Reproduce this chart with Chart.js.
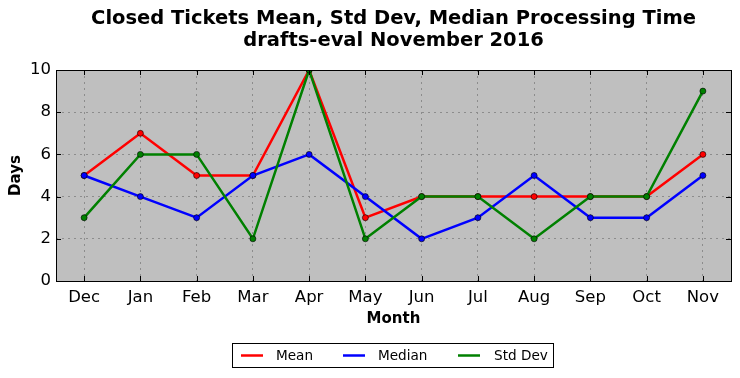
<!DOCTYPE html>
<html><head><meta charset="utf-8">
<script src="https://cdn.jsdelivr.net/npm/chart.js@4/dist/chart.umd.min.js"></script>
<style>html,body{margin:0;padding:0;background:#fff}#wrap{width:740px;height:378px}</style>
</head><body><div id="wrap"><canvas id="c" width="740" height="378"></canvas></div>
<script>
const months = ["Dec","Jan","Feb","Mar","Apr","May","Jun","Jul","Aug","Sep","Oct","Nov"];
const meanDays = [5,7,5,5,10,3,4,4,4,4,4,6];
const medianDays = [5,4,3,5,6,4,2,3,5,3,3,5];
const stdDevDays = [3,6,6,2,10,2,4,4,2,4,4,9];
const yTicks = [0,2,4,6,8,10];
const titleLines = ["Closed Tickets Mean, Std Dev, Median Processing Time","drafts-eval November 2016"];

const FONT = "'DejaVu Sans', sans-serif";

const framePlugin = {
  id: 'frame',
  beforeDraw(chart) {
    const {ctx, chartArea: a} = chart;
    ctx.save();
    ctx.fillStyle = '#bfbfbf';
    ctx.fillRect(a.left, a.top, a.right - a.left, a.bottom - a.top);
    ctx.restore();
  },
  afterDatasetsDraw(chart) {
    const {ctx, chartArea: a, scales} = chart;
    ctx.save();
    ctx.strokeStyle = '#000';
    ctx.lineWidth = 1;
    const L = 5;
    ctx.beginPath();
    months.forEach((m, i) => {
      const x = Math.round(scales.x.getPixelForValue(i)) + 0.5;
      ctx.moveTo(x, a.top); ctx.lineTo(x, a.top + L);
      ctx.moveTo(x, a.bottom); ctx.lineTo(x, a.bottom - L);
    });
    yTicks.forEach(v => {
      const y = Math.round(scales.y.getPixelForValue(v)) + 0.5;
      ctx.moveTo(a.left, y); ctx.lineTo(a.left + L, y);
      ctx.moveTo(a.right, y); ctx.lineTo(a.right - L, y);
    });
    ctx.stroke();
    ctx.strokeRect(Math.round(a.left) + 0.5, Math.round(a.top) + 0.5, Math.round(a.right - a.left), Math.round(a.bottom - a.top));
    ctx.restore();
  },
  afterDraw(chart) {
    const ctx = chart.ctx;
    const a = chart.chartArea;
    ctx.save();
    // title centred over the plot area
    ctx.fillStyle = '#000';
    ctx.font = "bold 19.5px " + FONT;
    ctx.textAlign = 'center';
    ctx.textBaseline = 'middle';
    const cx = (a.left + a.right) / 2;
    ctx.fillText(titleLines[0], cx, 19);
    ctx.fillText(titleLines[1], cx, 41);
    // legend
    ctx.textAlign = 'left';
    ctx.fillStyle = '#fff';
    ctx.fillRect(232.5, 343.5, 321, 24);
    ctx.strokeStyle = '#000';
    ctx.lineWidth = 1;
    ctx.strokeRect(232.5, 343.5, 321, 24);
    const items = [[0, 241, 276], [1, 343, 378], [2, 458, 494]];
    ctx.font = "13.6px " + FONT;
    items.forEach(([di, lx, tx]) => {
      const ds = chart.data.datasets[di];
      ctx.strokeStyle = ds.borderColor;
      ctx.lineWidth = 2.5;
      ctx.beginPath(); ctx.moveTo(lx, 355.5); ctx.lineTo(lx + 22, 355.5); ctx.stroke();
      ctx.fillStyle = '#000';
      ctx.fillText(ds.label, tx, 356);
    });
    ctx.restore();
  }
};

const mk = (label, data, color, order) => ({
  label, data, borderColor: color, backgroundColor: color, borderWidth: 2.5,
  pointRadius: 3, pointBackgroundColor: color, pointBorderColor: '#000', pointBorderWidth: 0.6,
  tension: 0, order
});

const gridColor = '#8c8c8c';

new Chart(document.getElementById('c'), {
  type: 'line',
  data: {
    labels: months,
    datasets: [
      mk('Mean', meanDays, '#ff0000', 2),
      mk('Median', medianDays, '#0000ff', 1),
      mk('Std Dev', stdDevDays, '#008000', 0)
    ]
  },
  options: {
    responsive: false, animation: false, devicePixelRatio: 1,
    layout: { padding: { left: 0, right: 9, top: 70, bottom: 0 } },
    plugins: {
      legend: { display: false },
      tooltip: { enabled: false },
      title: { display: false }
    },
    scales: {
      x: {
        type: 'category', offset: true,
        grid: { color: gridColor, lineWidth: 1, drawTicks: false, offset: false },
        border: { display: false, dash: [2,4] },
        ticks: { color: '#000', font: { family: FONT, size: 16.5 }, padding: 7, maxRotation: 0 },
        title: { display: true, text: 'Month', color: '#000', font: { family: FONT, size: 15, weight: 'bold' }, padding: { top: 4, bottom: 50 } },
        afterFit(s) { s.height = 97; }
      },
      y: {
        min: 0, max: 10,
        grid: { color: gridColor, lineWidth: 1, drawTicks: false },
        border: { display: false, dash: [2,4] },
        ticks: { stepSize: 2, color: '#000', font: { family: FONT, size: 16.5 }, padding: 5 },
        afterBuildTicks(s) { s.ticks = yTicks.map(v => ({ value: v })); },
        title: { display: true, text: 'Days', color: '#000', font: { family: FONT, size: 15, weight: 'bold' }, padding: { top: 7, bottom: 4 } },
        afterFit(s) { s.width = 56; }
      }
    }
  },
  plugins: [framePlugin]
});
</script>
</body></html>
